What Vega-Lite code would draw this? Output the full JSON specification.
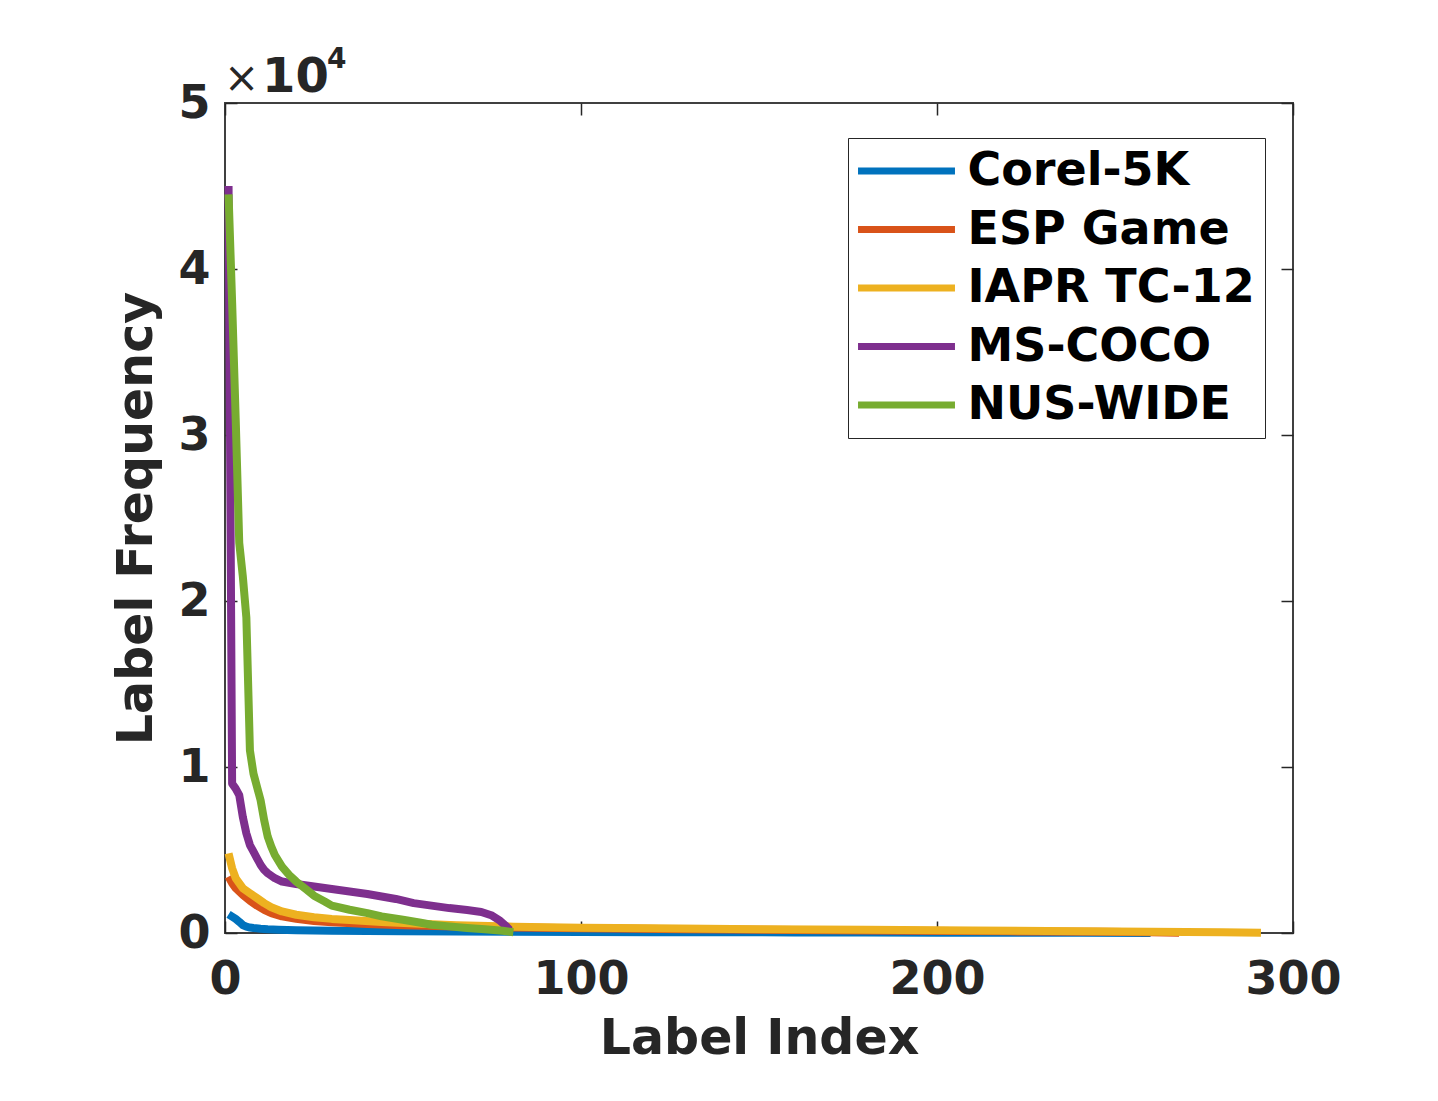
{
  "$schema": "https://vega.github.io/schema/vega-lite/v6.json",
  "autosize": {"type": "none"},
  "padding": {"left": 225, "top": 103, "right": 145, "bottom": 168},
  "width": 1068,
  "height": 830,
  "background": "white",
  "config": {
    "font": "DejaVu Sans",
    "view": {"stroke": "#404040", "strokeWidth": 2},
    "axis": {
      "labelFontSize": 46, "labelFontWeight": "bold", "labelColor": "#262626", "labelFlush": false,
      "titleFontSize": 49, "titleFontWeight": "bold", "titleColor": "#262626",
      "tickColor": "#262626", "tickSize": -12, "tickWidth": 1.5,
      "grid": false, "domain": false
    }
  },
  "data": {"values": [
    {"d":"Corel-5K","i":1,"f":1120},{"d":"Corel-5K","i":2,"f":988},{"d":"Corel-5K","i":3,"f":851},{"d":"Corel-5K","i":4,"f":674},{"d":"Corel-5K","i":5,"f":479},{"d":"Corel-5K","i":6,"f":380},{"d":"Corel-5K","i":7,"f":330},{"d":"Corel-5K","i":8,"f":300},{"d":"Corel-5K","i":10,"f":260},{"d":"Corel-5K","i":12,"f":230},{"d":"Corel-5K","i":15,"f":200},{"d":"Corel-5K","i":20,"f":170},{"d":"Corel-5K","i":25,"f":150},{"d":"Corel-5K","i":30,"f":135},{"d":"Corel-5K","i":40,"f":115},{"d":"Corel-5K","i":50,"f":100},{"d":"Corel-5K","i":65,"f":85},{"d":"Corel-5K","i":80,"f":72},{"d":"Corel-5K","i":100,"f":60},{"d":"Corel-5K","i":120,"f":50},{"d":"Corel-5K","i":140,"f":42},{"d":"Corel-5K","i":160,"f":35},{"d":"Corel-5K","i":180,"f":28},{"d":"Corel-5K","i":200,"f":22},{"d":"Corel-5K","i":220,"f":17},{"d":"Corel-5K","i":240,"f":12},{"d":"Corel-5K","i":260,"f":6},
    {"d":"ESP Game","i":1,"f":3400},{"d":"ESP Game","i":2,"f":3000},{"d":"ESP Game","i":3,"f":2700},{"d":"ESP Game","i":5,"f":2300},{"d":"ESP Game","i":7,"f":1950},{"d":"ESP Game","i":9,"f":1650},{"d":"ESP Game","i":11,"f":1400},{"d":"ESP Game","i":13,"f":1200},{"d":"ESP Game","i":16,"f":1000},{"d":"ESP Game","i":20,"f":850},{"d":"ESP Game","i":25,"f":720},{"d":"ESP Game","i":30,"f":640},{"d":"ESP Game","i":40,"f":540},{"d":"ESP Game","i":50,"f":470},{"d":"ESP Game","i":65,"f":390},{"d":"ESP Game","i":81,"f":330},{"d":"ESP Game","i":100,"f":280},{"d":"ESP Game","i":130,"f":230},{"d":"ESP Game","i":160,"f":180},{"d":"ESP Game","i":190,"f":140},{"d":"ESP Game","i":220,"f":100},{"d":"ESP Game","i":245,"f":70},{"d":"ESP Game","i":260,"f":40},{"d":"ESP Game","i":268,"f":10},
    {"d":"IAPR TC-12","i":1,"f":4800},{"d":"IAPR TC-12","i":2,"f":3900},{"d":"IAPR TC-12","i":3,"f":3300},{"d":"IAPR TC-12","i":5,"f":2700},{"d":"IAPR TC-12","i":7,"f":2400},{"d":"IAPR TC-12","i":9,"f":2100},{"d":"IAPR TC-12","i":11,"f":1800},{"d":"IAPR TC-12","i":13,"f":1550},{"d":"IAPR TC-12","i":16,"f":1300},{"d":"IAPR TC-12","i":20,"f":1100},{"d":"IAPR TC-12","i":25,"f":950},{"d":"IAPR TC-12","i":30,"f":850},{"d":"IAPR TC-12","i":35,"f":780},{"d":"IAPR TC-12","i":44,"f":660},{"d":"IAPR TC-12","i":55,"f":550},{"d":"IAPR TC-12","i":65,"f":470},{"d":"IAPR TC-12","i":81,"f":380},{"d":"IAPR TC-12","i":100,"f":320},{"d":"IAPR TC-12","i":120,"f":280},{"d":"IAPR TC-12","i":150,"f":230},{"d":"IAPR TC-12","i":180,"f":190},{"d":"IAPR TC-12","i":210,"f":150},{"d":"IAPR TC-12","i":240,"f":110},{"d":"IAPR TC-12","i":260,"f":80},{"d":"IAPR TC-12","i":280,"f":50},{"d":"IAPR TC-12","i":291,"f":20},
    {"d":"MS-COCO","i":1,"f":45000},{"d":"MS-COCO","i":2,"f":9000},{"d":"MS-COCO","i":3,"f":8700},{"d":"MS-COCO","i":4,"f":8300},{"d":"MS-COCO","i":5,"f":7000},{"d":"MS-COCO","i":6,"f":6000},{"d":"MS-COCO","i":7,"f":5300},{"d":"MS-COCO","i":8,"f":4900},{"d":"MS-COCO","i":9,"f":4500},{"d":"MS-COCO","i":10,"f":4100},{"d":"MS-COCO","i":11,"f":3800},{"d":"MS-COCO","i":12,"f":3600},{"d":"MS-COCO","i":14,"f":3300},{"d":"MS-COCO","i":16,"f":3100},{"d":"MS-COCO","i":20,"f":2950},{"d":"MS-COCO","i":25,"f":2800},{"d":"MS-COCO","i":30,"f":2650},{"d":"MS-COCO","i":35,"f":2500},{"d":"MS-COCO","i":40,"f":2350},{"d":"MS-COCO","i":44,"f":2200},{"d":"MS-COCO","i":48,"f":2050},{"d":"MS-COCO","i":53,"f":1800},{"d":"MS-COCO","i":58,"f":1650},{"d":"MS-COCO","i":63,"f":1500},{"d":"MS-COCO","i":68,"f":1380},{"d":"MS-COCO","i":72,"f":1270},{"d":"MS-COCO","i":75,"f":1050},{"d":"MS-COCO","i":77,"f":780},{"d":"MS-COCO","i":79,"f":400},{"d":"MS-COCO","i":80,"f":180},
    {"d":"NUS-WIDE","i":1,"f":44500},{"d":"NUS-WIDE","i":2,"f":38000},{"d":"NUS-WIDE","i":3,"f":31000},{"d":"NUS-WIDE","i":4,"f":23500},{"d":"NUS-WIDE","i":5,"f":21500},{"d":"NUS-WIDE","i":6,"f":19000},{"d":"NUS-WIDE","i":7,"f":11000},{"d":"NUS-WIDE","i":8,"f":9600},{"d":"NUS-WIDE","i":9,"f":8800},{"d":"NUS-WIDE","i":10,"f":8000},{"d":"NUS-WIDE","i":11,"f":6800},{"d":"NUS-WIDE","i":12,"f":5800},{"d":"NUS-WIDE","i":13,"f":5200},{"d":"NUS-WIDE","i":14,"f":4700},{"d":"NUS-WIDE","i":16,"f":4000},{"d":"NUS-WIDE","i":18,"f":3500},{"d":"NUS-WIDE","i":20,"f":3100},{"d":"NUS-WIDE","i":23,"f":2600},{"d":"NUS-WIDE","i":25,"f":2250},{"d":"NUS-WIDE","i":28,"f":1900},{"d":"NUS-WIDE","i":30,"f":1650},{"d":"NUS-WIDE","i":35,"f":1400},{"d":"NUS-WIDE","i":40,"f":1200},{"d":"NUS-WIDE","i":44,"f":1000},{"d":"NUS-WIDE","i":50,"f":800},{"d":"NUS-WIDE","i":55,"f":620},{"d":"NUS-WIDE","i":58,"f":500},{"d":"NUS-WIDE","i":63,"f":400},{"d":"NUS-WIDE","i":68,"f":300},{"d":"NUS-WIDE","i":73,"f":220},{"d":"NUS-WIDE","i":78,"f":130},{"d":"NUS-WIDE","i":81,"f":50}
  ]},
  "layer": [
    {
      "mark": {"type": "line", "strokeWidth": 8, "strokeJoin": "round"},
      "encoding": {
        "x": {"field": "i", "type": "quantitative",
          "scale": {"domain": [0, 300], "nice": false},
          "axis": {"orient": "bottom", "title": "Label Index", "values": [0, 100, 200, 300], "labelPadding": 36, "titlePadding": 12}},
        "y": {"field": "f", "type": "quantitative",
          "scale": {"domain": [0, 50000], "nice": false},
          "axis": {"orient": "left", "title": "Label Frequency", "values": [0, 10000, 20000, 30000, 40000, 50000], "labelExpr": "datum.value / 10000", "labelPadding": 27, "titlePadding": 16}},
        "color": {"field": "d", "type": "nominal",
          "scale": {"domain": ["Corel-5K", "ESP Game", "IAPR TC-12", "MS-COCO", "NUS-WIDE"],
                    "range": ["#0072BD", "#D95319", "#EDB120", "#7E2F8E", "#77AC30"]},
          "legend": {"orient": "none", "legendX": 623, "legendY": 35, "title": null,
            "fillColor": "white", "strokeColor": "#262626", "padding": 10,
            "symbolType": "M-3.03,0H3.03", "symbolSize": 1024, "symbolStrokeWidth": 7, "symbolOffset": 25.5,
            "labelFontSize": 46, "labelFontWeight": "bold", "labelColor": "black", "labelFont": "DejaVu Sans",
            "rowPadding": 12.5, "labelOffset": 38, "labelLimit": 0}}
      }
    },
    {
      "mark": {"type": "line", "opacity": 0},
      "encoding": {
        "x": {"field": "i", "type": "quantitative",
          "axis": {"orient": "top", "title": null, "labels": false, "values": [0, 100, 200, 300]}},
        "y": {"field": "f", "type": "quantitative",
          "axis": {"orient": "right", "title": null, "labels": false, "values": [0, 10000, 20000, 30000, 40000, 50000]}},
        "detail": {"field": "d"}
      }
    },
    {
      "data": {"values": [{}]},
      "mark": {"type": "text", "text": "×", "fontSize": 42, "fontWeight": "normal", "color": "#262626", "align": "left", "baseline": "alphabetic", "dx": -1, "dy": -11},
      "encoding": {"x": {"datum": 0, "axis": null}, "y": {"datum": 50000, "axis": null}}
    },
    {
      "data": {"values": [{}]},
      "mark": {"type": "text", "text": "10", "fontSize": 48, "fontWeight": "bold", "color": "#262626", "align": "left", "baseline": "alphabetic", "dx": 37, "dy": -11},
      "encoding": {"x": {"datum": 0, "axis": null}, "y": {"datum": 50000, "axis": null}}
    },
    {
      "data": {"values": [{}]},
      "mark": {"type": "text", "text": "4", "fontSize": 28, "fontWeight": "bold", "color": "#262626", "align": "left", "baseline": "alphabetic", "dx": 102, "dy": -35},
      "encoding": {"x": {"datum": 0, "axis": null}, "y": {"datum": 50000, "axis": null}}
    }
  ],
  "resolve": {"axis": {"x": "independent", "y": "independent"}}
}
